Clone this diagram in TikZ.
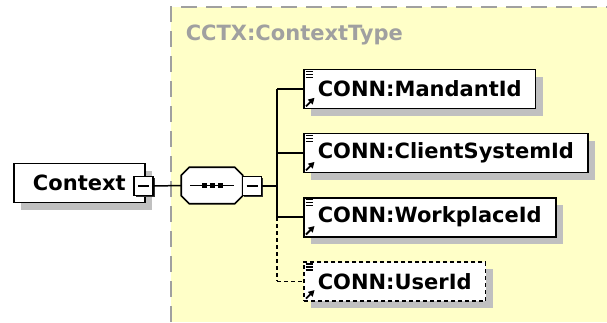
\documentclass[tikz,border=0pt]{standalone}
\usepackage{fontspec}
\setmainfont{DejaVu Sans}
\usepackage{tikz}
\usetikzlibrary{arrows,arrows.meta,positioning,shadows}

\definecolor{typeyellow}{RGB}{255,255,200}
\definecolor{typegray}{RGB}{160,160,160}
\definecolor{shadegray}{RGB}{192,192,192}

\tikzset{
  bigtext/.style={font=\fontsize{21}{25}\selectfont\bfseries},
  optline/.style={dash pattern=on 4pt off 3pt},
  elem/.style={draw,fill=white,line width=1.6pt,bigtext,inner xsep=14pt,minimum height=39pt,
    drop shadow={shadow xshift=7pt,shadow yshift=-7pt,fill=shadegray,opacity=1}},
  optelem/.style={elem,optline},
  minusbox/.style={draw,fill=white,line width=1.4pt,minimum size=19pt,inner sep=0pt,
    drop shadow={shadow xshift=1.8pt,shadow yshift=-1.8pt,fill=black!80,opacity=1},
    path picture={\draw[line width=1.2pt] ([xshift=4pt]path picture bounding box.west) -- ([xshift=-4pt]path picture bounding box.east);}},
}

% icons in the corners of a referenced element
\newcommand{\connmarks}[1]{%
  \begin{scope}[shift={(#1.north west)}]
    \foreach \yy in {3,6,9} \draw[line width=1.1pt,solid] (2.5,\yy) -- (10,\yy);
  \end{scope}
  \begin{scope}[shift={(#1.south west)}]
    \draw[-{Triangle[length=6pt,width=6.5pt]},line width=1.8pt,solid] (3,-3) -- (11.5,-11.5);
  \end{scope}}

% octagon outline around a node
\newcommand{\octo}[2]{%
  \path[#2] ([xshift=8pt]#1.north west) -- ([xshift=-8pt]#1.north east) -- ([yshift=-8pt]#1.north east)
    -- ([yshift=8pt]#1.south east) -- ([xshift=-8pt]#1.south east) -- ([xshift=8pt]#1.south west)
    -- ([yshift=8pt]#1.south west) -- ([yshift=-8pt]#1.north west) -- cycle;}

\begin{document}
\begin{tikzpicture}[x=1pt,y=-1pt,>=latex',line width=1.5pt,node distance=23.5pt]
\useasboundingbox (0,0) rectangle (607,322);
% complex type area
\fill[typeyellow] (171,7) rectangle (607,322);
\draw[typegray,line width=2pt,dash pattern=on 16pt off 9pt] (171,322) -- (171,7) -- (607,7);
\node (typename) [anchor=west,text=typegray,bigtext,inner sep=0pt] at (185,35) {CCTX:ContextType};

\node (context) [elem,anchor=west,minimum width=131pt,inner xsep=0pt] at (13,183) {Context};
\node (ctxminus) [minusbox] at (143.5,186) {};

% sequence compositor
\node (seq) [minimum width=60pt,minimum height=35pt,inner sep=0pt] at (212,185.5) {};
\begin{scope}[shift={(7pt,-7pt)}]
  \octo{seq}{fill=shadegray}
\end{scope}
\octo{seq}{draw,fill=white,line width=1.6pt}
\draw ([xshift=9pt]seq.west) -- ([xshift=-9pt]seq.east);
\foreach \dx in {-8,0,8} \fill ([xshift=\dx pt]seq.center) ++(-2.5,-2.5) rectangle ++(5,5);
\node (seqminus) [minusbox] at (252,186) {};

\node (mandant) [elem,anchor=west] at (303,89) {CONN:MandantId};
\node (client) [elem,below=of mandant.south west,anchor=north west] {CONN:ClientSystemId};
\node (workplace) [elem,below=of client.south west,anchor=north west] {CONN:WorkplaceId};
\node (userid) [optelem,below=of workplace.south west,anchor=north west] {CONN:UserId};
\foreach \n in {mandant,client,workplace,userid} \connmarks{\n};

\coordinate (bus) at (277,186);
\draw (ctxminus.east) -- (seq.west);
\draw (seqminus.east) -- (bus);
\draw (bus |- mandant.west) -- (bus |- workplace.west);
\draw[optline] (bus |- workplace.west) -- (bus |- userid.west);
\foreach \n in {mandant,client,workplace} \draw (bus |- \n.west) -- (\n.west);
\draw[optline] (bus |- userid.west) -- (userid.west);
\end{tikzpicture}
\end{document}
